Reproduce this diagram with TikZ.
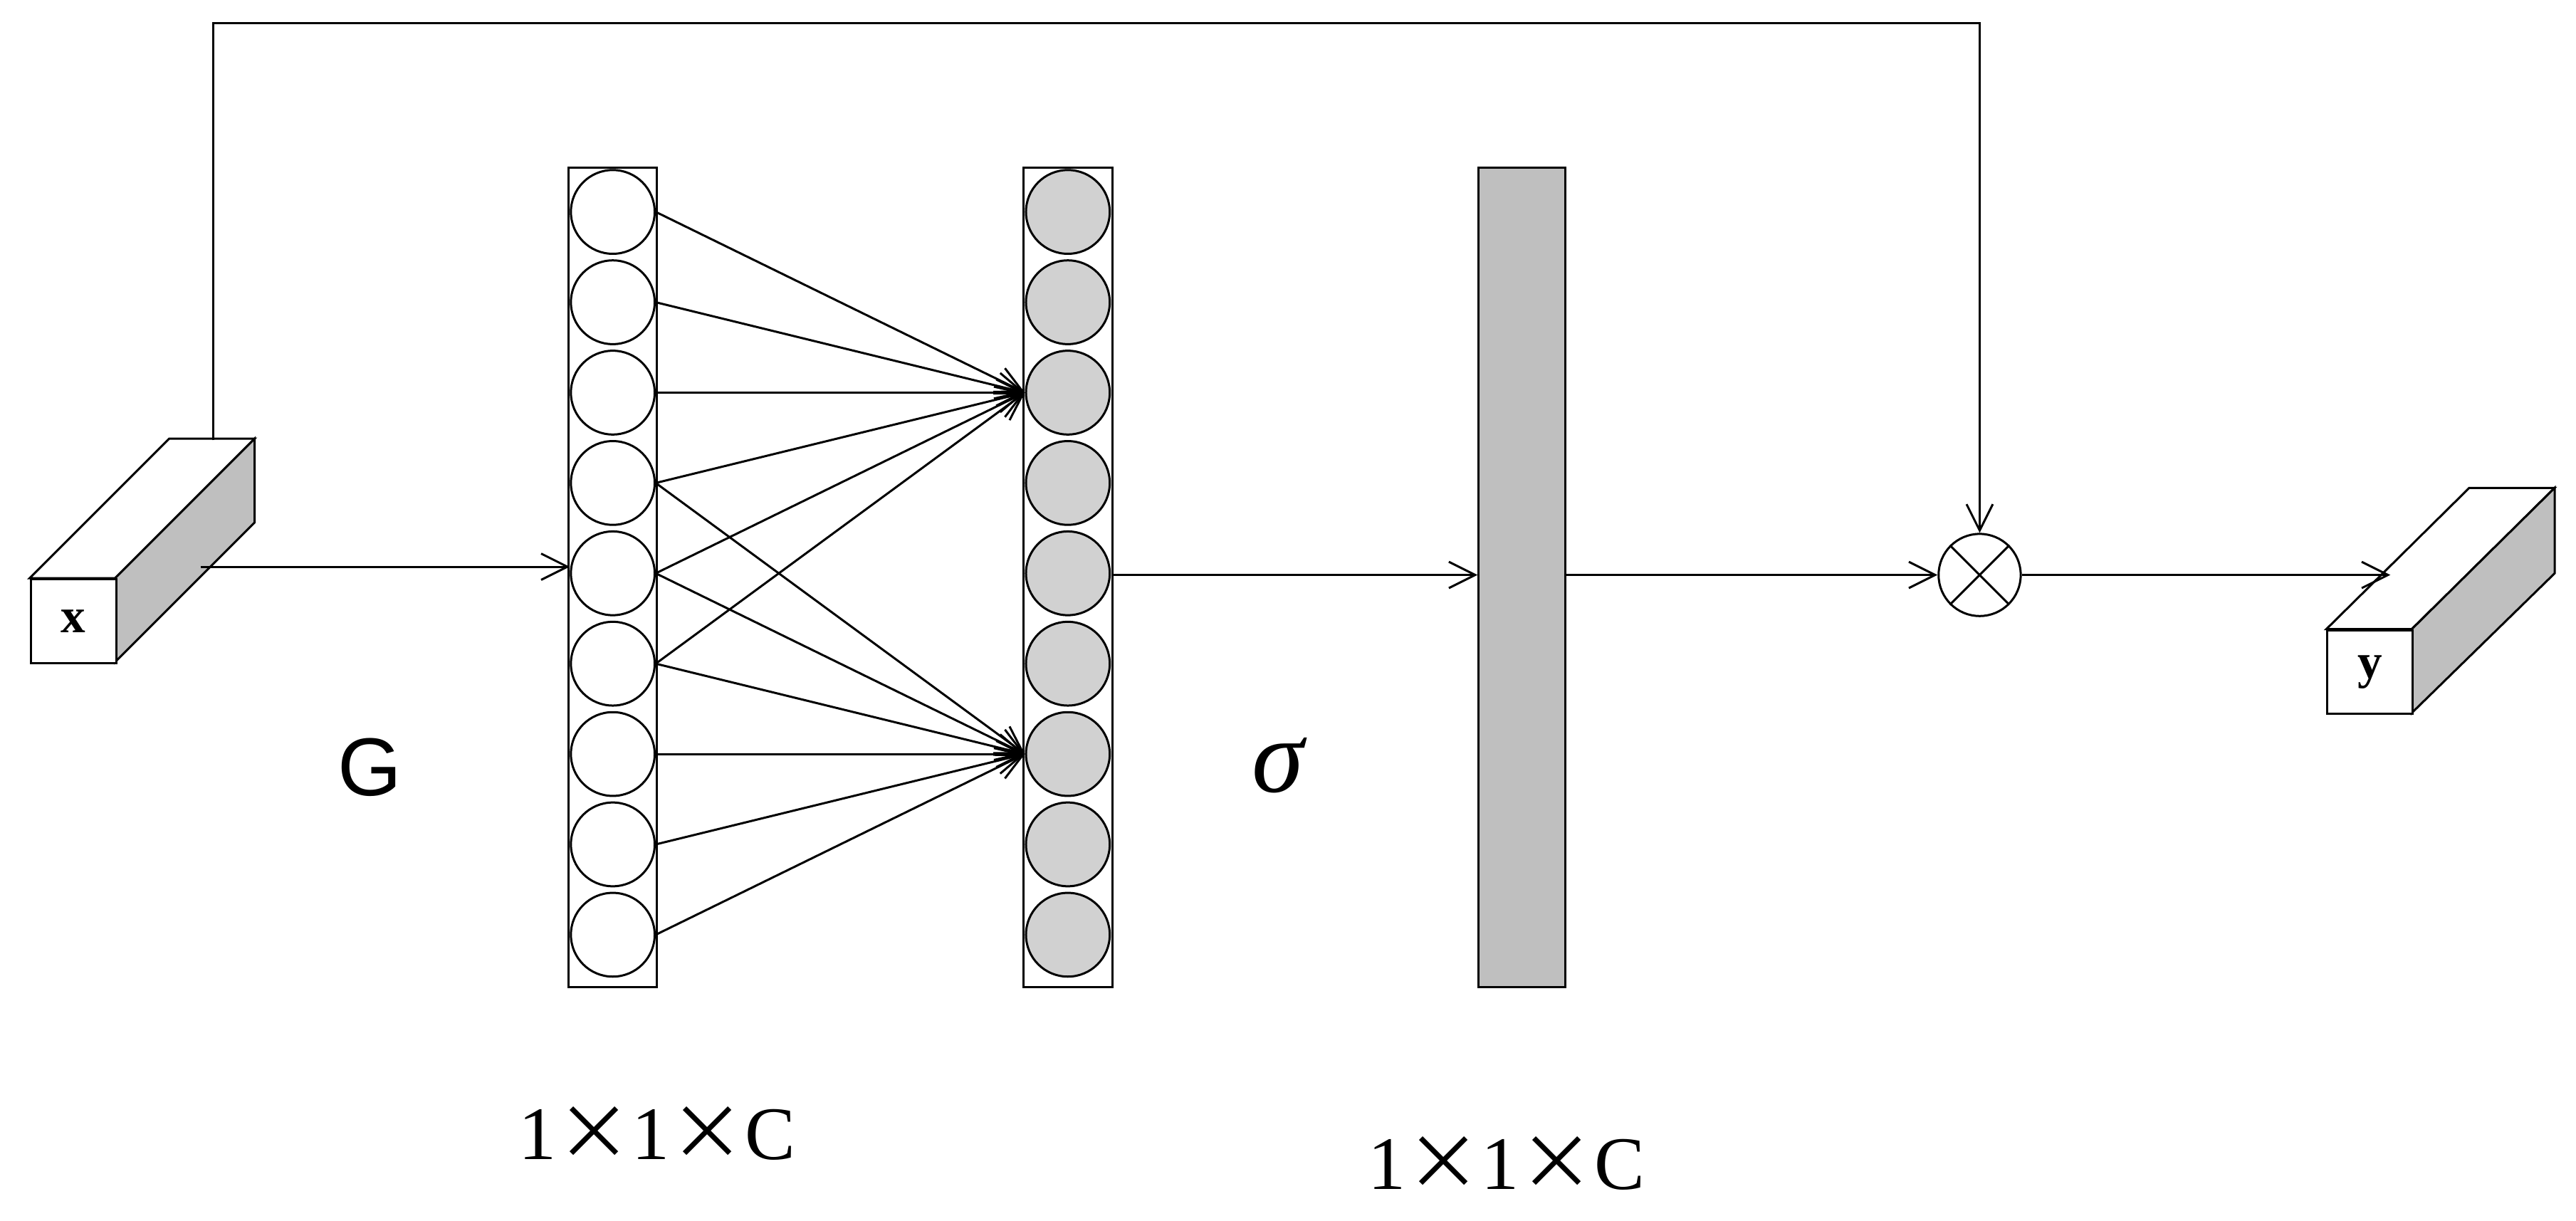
\documentclass[tikz,border=0pt]{standalone}
\usepackage{fontspec}
\setmainfont{Liberation Serif}
\newfontfamily\sans{Liberation Sans}
\newfontfamily\cjk{Noto Sans CJK SC}
\usetikzlibrary{arrows.meta}
\begin{document}
\begin{tikzpicture}[x=1pt,y=-1pt,
  ln/.style={line width=1.3pt},
  arr/.style={ln,-{Straight Barb[length=16pt,width=16pt,line width=1.3pt]}},
  wc/.style={circle,draw,line width=1.3pt,minimum size=51pt,inner sep=0pt,fill=white},
  gc/.style={wc,fill=black!18},
  lbl/.style={font=\fontsize{46}{50}\selectfont}]
\useasboundingbox (0,0) rectangle (1568,743);
% x box
\draw[ln,fill=white] (18,352) -- (70,352) -- (155,267) -- (103,267) -- cycle;
\draw[ln,fill=black!25] (70,352) -- (155,267) -- (155,318) -- (70,403) -- cycle;
\node[draw,ln,fill=white,minimum width=52pt,minimum height=51pt,anchor=north west,font=\fontsize{30}{30}\selectfont\bfseries] (x) at (18,352) {x};
\coordinate (xs) at (122,345);
\coordinate (xt) at (130,268);
% y box
\draw[ln,fill=white] (1416,383) -- (1468,383) -- (1555,297) -- (1503,297) -- cycle;
\draw[ln,fill=black!25] (1468,383) -- (1555,297) -- (1555,349) -- (1468,434) -- cycle;
\node[draw,ln,fill=white,minimum width=52pt,minimum height=51pt,anchor=north west,font=\fontsize{30}{30}\selectfont\bfseries] (y) at (1416,383) {y};
% columns
\node[draw,ln,minimum width=54pt,minimum height=499pt,inner sep=0pt] (L) at (373,351.5) {};
\node[draw,ln,minimum width=54pt,minimum height=499pt,inner sep=0pt] (M) at (650,351.5) {};
\foreach \i in {1,...,9} {
  \node[wc] (l\i) at (373,{129+55*(\i-1)}) {};
  \node[gc] (m\i) at (650,{129+55*(\i-1)}) {};
}
\foreach \i in {1,...,6} \draw[arr] (l\i.east) -- (m3.west);
\foreach \i in {4,...,9} \draw[arr] (l\i.east) -- (m7.west);
\node[draw,ln,fill=black!25,minimum width=53pt,minimum height=499pt,inner sep=0pt] (B) at (926.5,351.5) {};
\node[circle,draw,ln,minimum size=50pt,inner sep=0pt] (ot) at (1205,350) {};
\draw[ln] (ot.north east) -- (ot.south west) (ot.north west) -- (ot.south east);
% arrows
\draw[arr] (xs) -- (xs-|l5.west);
\draw[arr] (M.east|-ot) -- (B.west|-ot);
\draw[arr] (B.east|-ot) -- (ot.west);
\draw[arr] (ot.east) -- (1455,350);
\draw[arr] (xt) -- (130,14) -- (ot.north|-0,14) -- (ot.north);
% labels
\node[font=\sans\fontsize{50}{50}\selectfont] (G) at (225,467) {G};
\node[font=\fontsize{64}{64}\selectfont\itshape] (s) at (778,466) {σ};
\node[lbl] (d1) at (400,690) {1{\cjk ×}1{\cjk ×}C};
\node[lbl] (d2) at (917,708) {1{\cjk ×}1{\cjk ×}C};
\end{tikzpicture}
\end{document}
